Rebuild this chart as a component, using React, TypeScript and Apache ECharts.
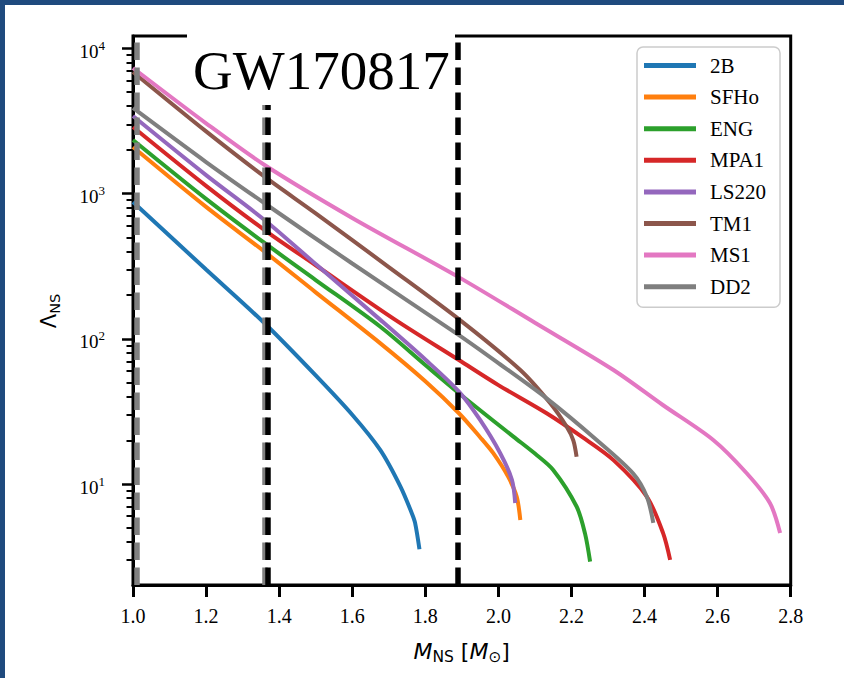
import { useEffect, useRef } from "react";
import * as echarts from "echarts";

// ---- data ----
const NAMES = ["2B", "SFHo", "ENG", "MPA1", "LS220", "TM1", "MS1", "DD2"];
const COLORS = ["#1f77b4", "#ff7f0e", "#2ca02c", "#d62728", "#9467bd", "#8c564b", "#e377c2", "#7f7f7f"];

const M_2B = [1.0, 1.2, 1.36, 1.5, 1.6, 1.677, 1.732, 1.763, 1.772, 1.784];
const L_2B = [875, 300, 128, 56, 30, 17.1, 9.6, 6.3, 5.4, 3.55];

const M_SFHO = [1.0, 1.2, 1.36, 1.5, 1.677, 1.8, 1.892, 1.95, 1.986, 2.027, 2.05, 2.06];
const L_SFHO = [2094, 810, 398, 209, 93, 51, 30.7, 21, 16.3, 11.2, 8.2, 5.65];

const M_ENG = [1.0, 1.2, 1.36, 1.5, 1.677, 1.8, 1.892, 2.041, 2.1, 2.15, 2.214, 2.237, 2.251];
const L_ENG = [2340, 920, 457, 254, 121, 66, 42.2, 21.2, 16.2, 12.5, 7.0, 4.57, 2.92];

const M_MPA1 = [1.0, 1.2, 1.36, 1.5, 1.718, 1.892, 2.0, 2.132, 2.23, 2.315, 2.406, 2.451, 2.47];
const L_MPA1 = [2875, 1130, 561, 321, 135, 71.4, 48, 30.7, 21, 14.6, 8.2, 4.57, 3.0];

const M_LS220 = [1.0, 1.2, 1.36, 1.5, 1.677, 1.8, 1.892, 1.95, 2.005, 2.037, 2.046];
const L_LS220 = [3420, 1340, 658, 327, 135, 72, 43.3, 27.6, 16.3, 10.7, 7.4];

const M_TM1 = [1.0, 1.2, 1.36, 1.5, 1.7, 1.895, 2.06, 2.142, 2.187, 2.205, 2.214];
const L_TM1 = [6880, 2680, 1307, 731, 312, 134.6, 61, 36, 24.8, 20, 15.4];

const M_MS1 = [1.0, 1.2, 1.36, 1.6, 1.89, 2.1, 2.315, 2.45, 2.588, 2.679, 2.743, 2.771];
const L_MS1 = [7330, 3050, 1574, 680, 267, 129, 61, 35, 20.1, 11.9, 7.4, 4.6];

const M_DD2 = [1.0, 1.2, 1.36, 1.6, 1.892, 2.0, 2.132, 2.269, 2.369, 2.406, 2.424];
const L_DD2 = [3890, 1650, 858, 330, 106, 68, 38.9, 20.1, 11.8, 8.2, 5.4];

const MASSES = [M_2B, M_SFHO, M_ENG, M_MPA1, M_LS220, M_TM1, M_MS1, M_DD2];
const LAMBDAS = [L_2B, L_SFHO, L_ENG, L_MPA1, L_LS220, L_TM1, L_MS1, L_DD2];

const X_MIN = 1.0;
const X_MAX = 2.8;
const X_STEP = 0.2;
const Y_MIN = 2.016;
const Y_MAX = 12170;
const Y_MAJOR = [10, 100, 1000, 10000];
const Y_MINOR = [
  3, 4, 5, 6, 7, 8, 9,
  20, 30, 40, 50, 60, 70, 80, 90,
  200, 300, 400, 500, 600, 700, 800, 900,
  2000, 3000, 4000, 5000, 6000, 7000, 8000, 9000,
];

// vertical dashed lines (mass bounds)
const GREY_LINES = [1.015, 1.357];
const BLACK_LINES = [1.37, 1.892];

const TITLE = "GW170817";

const SERIF = "Liberation Serif";
const SANS = "DejaVu Sans";

export default function App() {
  const ref = useRef<HTMLDivElement>(null);

  useEffect(() => {
    const chart = echarts.init(ref.current!, null, { renderer: "svg" });

    const series: any[] = NAMES.map((name, i) => ({
      type: "line",
      name,
      data: MASSES[i].map((m, j) => [m, LAMBDAS[i][j]]),
      showSymbol: false,
      symbol: "none",
      smooth: 0.3,
      color: COLORS[i],
      itemStyle: { color: COLORS[i] },
      lineStyle: { color: COLORS[i], width: 4 },
      z: 2,
      silent: true,
    }));

    const dash = [17.5, 7.5];
    series.push({
      type: "line",
      name: "_vlines",
      data: [],
      silent: true,
      markLine: {
        silent: true,
        symbol: ["none", "none"],
        label: { show: false },
        animation: false,
        z: 5,
        data: [
          ...GREY_LINES.map((v) => ({ xAxis: v, lineStyle: { color: "#808080", width: 5.5, type: dash } })),
          ...BLACK_LINES.map((v) => ({ xAxis: v, lineStyle: { color: "#000000", width: 5.5, type: dash } })),
        ],
      },
    });

    const option: any = {
      animation: false,
      backgroundColor: "#ffffff",
      textStyle: { fontFamily: SERIF, color: "#000" },
      grid: {
        left: 133,
        right: 53.3,
        top: 36,
        bottom: 93,
        show: true,
        borderColor: "#000",
        borderWidth: 3,
        backgroundColor: "transparent",
        outerBoundsMode: "none",
      },
      xAxis: {
        type: "value",
        min: X_MIN,
        max: X_MAX,
        interval: X_STEP,
        axisLine: { show: true, onZero: false, lineStyle: { color: "#000", width: 3 } },
        axisTick: { show: true, inside: false, length: 12, lineStyle: { color: "#000", width: 3 } },
        axisLabel: {
          show: true,
          margin: 21,
          color: "#000",
          fontFamily: SERIF,
          fontSize: 20,
          formatter: (v: number) => v.toFixed(1),
        },
        splitLine: { show: false },
      },
      yAxis: [
        {
          type: "log",
          logBase: 10,
          min: Y_MIN,
          max: Y_MAX,
          position: "left",
          axisLine: { show: true, onZero: false, lineStyle: { color: "#000", width: 3 } },
          axisTick: {
            show: true,
            inside: false,
            length: 11,
            customValues: Y_MAJOR,
            lineStyle: { color: "#000", width: 2.5 },
          },
          axisLabel: {
            show: true,
            margin: 28,
            color: "#000",
            fontFamily: SERIF,
            fontSize: 19,
            customValues: Y_MAJOR,
            formatter: (v: number) => `{b|10}{s|${Math.round(Math.log10(v))}}`,
            rich: {
              b: { fontFamily: SERIF, fontSize: 19, lineHeight: 19, padding: [6, 0, 0, 0], color: "#000" },
              s: { fontFamily: SERIF, fontSize: 13, lineHeight: 13, verticalAlign: "top", color: "#000" },
            },
          },
          splitLine: { show: false },
          minorTick: { show: false },
        },
        {
          type: "log",
          logBase: 10,
          min: Y_MIN,
          max: Y_MAX,
          position: "left",
          offset: 0,
          axisLine: { show: false },
          axisTick: {
            show: true,
            inside: false,
            length: 6.5,
            customValues: Y_MINOR,
            lineStyle: { color: "#000", width: 2 },
          },
          axisLabel: { show: false },
          splitLine: { show: false },
        },
      ],
      legend: {
        show: true,
        data: NAMES,
        orient: "vertical",
        left: 637,
        top: 47,
        padding: [8, 14, 10, 7],
        itemWidth: 52,
        itemHeight: 5,
        itemGap: 10.6,
        icon: "rect",
        backgroundColor: "rgba(255,255,255,0.8)",
        borderColor: "#cccccc",
        borderWidth: 1.5,
        borderRadius: 6,
        selectedMode: false,
        textStyle: {
          fontFamily: SERIF,
          fontSize: 21,
          lineHeight: 20,
          color: "#000",
          padding: [0, 0, 0, 9],
        },
      },
      graphic: [
        { type: "rect", z: 100, silent: true, shape: { x: 187, y: 26, width: 268, height: 79 }, style: { fill: "#ffffff" } },
        {
          type: "text",
          z: 101,
          silent: true,
          x: 193,
          y: 70,
          style: {
            text: TITLE,
            fill: "#000",
            font: `55px "${SERIF}"`,
            align: "left",
            textAlign: "left",
            verticalAlign: "middle",
            textVerticalAlign: "middle",
          },
        },
        {
          type: "text",
          z: 101,
          silent: true,
          x: 461.7,
          y: 652,
          style: {
            text: "{i|M}{s|NS}{r| [}{i|M}{s|⊙}{r|]}",
            fill: "#000",
            align: "center",
            textAlign: "center",
            verticalAlign: "middle",
            textVerticalAlign: "middle",
            rich: {
              i: { fontFamily: SANS, fontStyle: "italic", fontSize: 22, lineHeight: 26, padding: [0, 0, 2, 0], fill: "#000", color: "#000" },
              r: { fontFamily: SANS, fontSize: 22, lineHeight: 26, padding: [0, 0, 2, 0], fill: "#000", color: "#000" },
              s: { fontFamily: SANS, fontSize: 15.5, lineHeight: 15, verticalAlign: "bottom", fill: "#000", color: "#000" },
            },
          },
        },
        {
          type: "text",
          z: 101,
          silent: true,
          x: 50,
          y: 311,
          rotation: Math.PI / 2,
          style: {
            text: "{a|Λ}{s|NS}",
            fill: "#000",
            align: "center",
            textAlign: "center",
            verticalAlign: "middle",
            textVerticalAlign: "middle",
            rich: {
              a: { fontFamily: SANS, fontSize: 21, lineHeight: 25, padding: [0, 0, 2, 0], fill: "#000", color: "#000" },
              s: { fontFamily: SANS, fontSize: 14.5, lineHeight: 14, verticalAlign: "bottom", fill: "#000", color: "#000" },
            },
          },
        },
        { type: "rect", z: 200, silent: true, shape: { x: 0, y: 0, width: 844, height: 5 }, style: { fill: "#1f4a7e" } },
        { type: "rect", z: 200, silent: true, shape: { x: 0, y: 0, width: 5, height: 678 }, style: { fill: "#1f4a7e" } },
      ],
      series,
    };

    chart.setOption(option);
    return () => chart.dispose();
  }, []);

  return (
    <div
      ref={ref}
      style={{ position: "fixed", left: 0, top: 0, width: 844, height: 678, background: "#ffffff" }}
    />
  );
}
